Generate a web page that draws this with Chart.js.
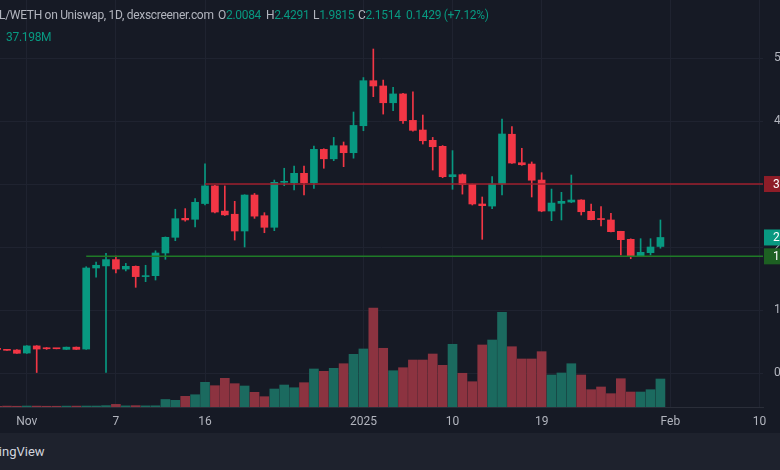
<!DOCTYPE html>
<html>
<head>
<meta charset="utf-8">
<script src="https://cdn.jsdelivr.net/npm/chart.js@4.4.1/dist/chart.umd.min.js"></script>
<style>
  html, body { margin: 0; padding: 0; background: #161a25; }
  #wrap { position: relative; width: 780px; height: 470px; overflow: hidden; background: #161a25; font-family: Roboto, "Liberation Sans", sans-serif; }
  #caja { position: absolute; left: 0; top: 0; width: 780px; height: 433px; }
  .cab { position: absolute; top: 8px; font-size: 12px; letter-spacing: -0.3px; color: #b2b5be; white-space: nowrap; }
  .v { color: #089981; }
  #volumen { position: absolute; left: 6px; top: 30px; font-size: 12px; letter-spacing: -0.3px; color: #089981; }
  #pie { position: absolute; left: 0; top: 433px; width: 780px; height: 37px; background: #1e222d; }
  #marca { position: absolute; left: -27px; top: 11px; font-size: 13px; color: #d1d4dc; white-space: nowrap; }
</style>
</head>
<body>
<div id="wrap">
  <div id="caja"><canvas id="grafico"></canvas></div>
  <div class="cab" style="left:-1px">L/WETH on Uniswap, 1D, dexscreener.com</div>
  <div class="cab" style="left:218px">O<span class="v">2.0084</span></div>
  <div class="cab" style="left:266px">H<span class="v">2.4291</span></div>
  <div class="cab" style="left:313px">L<span class="v">1.9815</span></div>
  <div class="cab" style="left:358px">C<span class="v">2.1514</span></div>
  <div class="cab v" style="left:406px">0.1429 (+7.12%)</div>
  <div id="volumen">37.198M</div>
  <div id="pie"><div id="marca">TradingView</div></div>
</div>
<script>
// Velas diarias (la primera queda cortada en el borde izquierdo)
const fechas = ['Nov 25','Nov 26','Nov 27','Nov 28','Nov 29','Nov 30',
  'Dec 1','Dec 2','Dec 3','Dec 4','Dec 5','Dec 6','Dec 7','Dec 8','Dec 9','Dec 10','Dec 11','Dec 12','Dec 13','Dec 14','Dec 15','Dec 16',
  'Dec 17','Dec 18','Dec 19','Dec 20','Dec 21','Dec 22','Dec 23','Dec 24','Dec 25','Dec 26','Dec 27','Dec 28','Dec 29','Dec 30','Dec 31',
  'Jan 1','Jan 2','Jan 3','Jan 4','Jan 5','Jan 6','Jan 7','Jan 8','Jan 9','Jan 10','Jan 11','Jan 12','Jan 13','Jan 14','Jan 15','Jan 16',
  'Jan 17','Jan 18','Jan 19','Jan 20','Jan 21','Jan 22','Jan 23','Jan 24','Jan 25','Jan 26','Jan 27','Jan 28','Jan 29','Jan 30','Jan 31'];

const apertura = [0.385, 0.37, 0.365, 0.317, 0.43, 0.40, 0.39, 0.375, 0.41, 0.38,
  1.667, 1.70, 1.80, 1.65, 1.693, 1.53, 1.545, 1.905, 2.154, 2.455,
  2.44, 2.69, 2.97, 2.57, 2.52, 2.254, 2.825, 2.497, 2.313, 3.027,
  3.02, 3.17, 3.02, 3.55, 3.40, 3.608, 3.497, 3.925, 4.64, 4.556,
  4.29, 4.43, 4.01, 3.857, 3.693, 3.598, 3.116, 3.148, 2.995, 2.683,
  2.65, 3.0, 3.79, 3.338, 3.317, 3.063, 2.571, 2.693, 2.714, 2.746,
  2.566, 2.44, 2.429, 2.249, 2.122, 1.852, 1.91, 2.0084];
const maximo = [0.39, 0.372, 0.37, 0.435, 0.435, 0.405, 0.392, 0.412, 0.413, 1.687,
  1.76, 1.90, 1.857, 1.74, 1.70, 1.71, 1.94, 2.16, 2.60, 2.61,
  2.77, 3.32, 2.98, 2.97, 2.725, 2.83, 2.85, 2.545, 3.063, 3.25,
  3.286, 3.286, 3.603, 3.56, 3.74, 3.667, 4.143, 4.69, 5.143, 4.65,
  4.535, 4.44, 4.465, 4.095, 3.74, 3.61, 3.53, 3.16, 3.0, 2.794,
  3.116, 4.03, 3.91, 3.567, 3.35, 3.18, 2.92, 2.868, 3.143, 2.75,
  2.683, 2.64, 2.535, 2.25, 2.13, 2.132, 2.132, 2.4291];
const minimo = [0.37, 0.358, 0.31, 0.31, 0.0, 0.375, 0.383, 0.372, 0.372, 0.375,
  1.52, 0.0, 1.587, 1.62, 1.36, 1.45, 1.476, 1.805, 2.10, 2.41,
  2.32, 2.667, 2.54, 2.50, 2.11, 2.0, 2.455, 2.227, 2.259, 2.973,
  2.905, 2.825, 2.93, 3.25, 3.37, 3.275, 3.41, 3.846, 4.386, 4.11,
  4.163, 3.963, 3.84, 3.635, 3.222, 3.10, 2.916, 2.84, 2.667, 2.122,
  2.608, 2.825, 3.328, 3.297, 2.794, 2.56, 2.418, 2.429, 2.703, 2.508,
  2.429, 2.333, 2.238, 1.873, 1.814, 1.85, 1.873, 1.9815];
const cierre = [0.375, 0.36, 0.313, 0.43, 0.38, 0.385, 0.385, 0.41, 0.375, 1.667,
  1.71, 1.80, 1.65, 1.693, 1.53, 1.545, 1.905, 2.154, 2.45, 2.43,
  2.71, 2.97, 2.555, 2.51, 2.254, 2.825, 2.49, 2.313, 3.027, 3.03,
  3.17, 3.02, 3.55, 3.40, 3.608, 3.497, 3.93, 4.64, 4.556, 4.29,
  4.43, 4.005, 3.852, 3.687, 3.592, 3.116, 3.148, 2.989, 2.683, 2.656,
  3.0, 3.794, 3.333, 3.306, 3.06, 2.571, 2.698, 2.725, 2.746, 2.56,
  2.434, 2.436, 2.243, 2.116, 1.852, 1.916, 2.0, 2.1514];
// volumen en millones
const volumen = [1.0, 1.2, 1.0, 1.3, 1.2, 1.0, 1.0, 1.2, 1.2, 1.3,
  1.3, 1.8, 3.5, 1.5, 1.8, 1.5, 1.6, 10.0, 8.9, 14.2,
  16.3, 32.8, 28.3, 38.1, 31.0, 27.9, 19.5, 13.7, 23.9, 29.2,
  25.6, 32.3, 50.5, 47.4, 51.4, 57.5, 70.0, 77.1, 131.5, 78.0,
  48.2, 52.2, 62.4, 62.4, 70.4, 55.4, 83.3, 44.8, 33.6, 82.4,
  89.0, 125.8, 80.1, 63.8, 63.8, 73.5, 42.5, 45.2, 57.5, 42.5,
  23.0, 26.6, 17.7, 37.6, 19.9, 19.9, 23.0, 37.198];

// marcas del eje de tiempo (posicion de vela -> texto)
const marcas = [2, 11, 20, 36, 45, 54, 67, 76];
const etiquetas = ['Nov', '7', '16', '2025', '10', '19', 'Feb', '10'];
const preciosEje = [0, 1, 2, 3, 4, 5];

// lineas horizontales dibujadas en el grafico
const nivelRojo = { desde: 20, precio: 3.0 };
const nivelVerde = { desde: 8, precio: 1.852 };
const precioActual = 2.1514;

const VERDE = '#089981';
const ROJO = '#f23645';
const VERDE_VOL = '#1b6a5f';
const ROJO_VOL = '#8c3340';

const sube = apertura.map((o, i) => cierre[i] >= o);
const posicion = (i) => i - 1;

const mechas = fechas.map((f, i) => ({ x: posicion(i), y: [minimo[i], maximo[i]] }));
const cuerpos = fechas.map((f, i) => ({ x: posicion(i), y: [apertura[i], cierre[i]] }));
const barrasVol = fechas.map((f, i) => ({ x: posicion(i), y: volumen[i] }));

const etiquetasPrecio = {
  id: 'etiquetasPrecio',
  afterDraw(chart) {
    const ctx = chart.ctx;
    const y = chart.scales.y;
    const x0 = chart.chartArea.right + 1;
    const tags = [
      { p: nivelRojo.precio, c: '#8e1d28', t: '3.0000' },
      { p: precioActual, c: VERDE, t: '2.1514' },
      { p: nivelVerde.precio, c: '#1d6022', t: '1.8520' }
    ];
    let ultimo = -100;
    ctx.save();
    ctx.font = '12px Roboto, "Liberation Sans", sans-serif';
    ctx.textBaseline = 'middle';
    tags.forEach(tag => {
      let py = y.getPixelForValue(tag.p);
      if (py - 8 < ultimo) py = ultimo + 8;
      ctx.fillStyle = tag.c;
      ctx.fillRect(x0, py - 8, 60, 16);
      ctx.fillStyle = '#ffffff';
      ctx.fillText(tag.t, x0 + 9, py + 1);
      ultimo = py + 8;
    });
    ctx.restore();
  }
};

const ctx = document.getElementById('grafico');
new Chart(ctx, {
  type: 'bar',
  data: {
    datasets: [
      {
        type: 'line',
        data: [{ x: nivelRojo.desde, y: nivelRojo.precio }, { x: 90, y: nivelRojo.precio }],
        borderColor: '#9e1f2c', borderWidth: 1.5, pointRadius: 0, yAxisID: 'y', order: 0
      },
      {
        type: 'line',
        data: [{ x: nivelVerde.desde, y: nivelVerde.precio }, { x: 90, y: nivelVerde.precio }],
        borderColor: '#1f7a27', borderWidth: 1.5, pointRadius: 0, yAxisID: 'y', order: 0
      },
      {
        data: mechas,
        backgroundColor: sube.map(s => s ? VERDE : ROJO),
        barThickness: 1, grouped: false, yAxisID: 'y', order: 2
      },
      {
        data: cuerpos,
        backgroundColor: sube.map(s => s ? VERDE : ROJO),
        barThickness: 7, minBarLength: 1, grouped: false, yAxisID: 'y', order: 1
      },
      {
        data: barrasVol,
        backgroundColor: sube.map(s => s ? VERDE_VOL : ROJO_VOL),
        barThickness: 9, grouped: false, yAxisID: 'yv', order: 3
      }
    ]
  },
  options: {
    responsive: true,
    maintainAspectRatio: false,
    animation: false,
    layout: { padding: 0 },
    plugins: { legend: { display: false }, tooltip: { enabled: false } },
    scales: {
      x: {
        type: 'linear',
        min: -0.707,
        max: 76.36,
        offset: false,
        afterBuildTicks: (scale) => { scale.ticks = marcas.map(v => ({ value: v })); },
        afterFit: (scale) => { scale.height = 26; scale.paddingLeft = 0; scale.paddingRight = 0; },
        grid: { color: '#1f2330', drawTicks: false, offset: false },
        border: { display: true, color: '#2a2e39' },
        ticks: {
          autoSkip: false, maxRotation: 0, padding: 8,
          color: '#b2b5be', font: { size: 12, family: 'Roboto' },
          callback: (v) => etiquetas[marcas.indexOf(v)]
        }
      },
      y: {
        position: 'right',
        min: -0.5397,
        max: 5.921,
        afterBuildTicks: (scale) => { scale.ticks = preciosEje.map(v => ({ value: v })); },
        afterFit: (scale) => { scale.width = 17; scale.paddingTop = 0; scale.paddingBottom = 0; },
        grid: { color: '#1f2330', drawTicks: false },
        border: { display: false },
        ticks: {
          padding: 11, color: '#b2b5be', font: { size: 12, family: 'Roboto' },
          callback: (v) => v.toFixed(4)
        }
      },
      yv: {
        display: false,
        min: 0,
        max: 540.7
      }
    }
  },
  plugins: [etiquetasPrecio]
});
</script>
</body>
</html>
